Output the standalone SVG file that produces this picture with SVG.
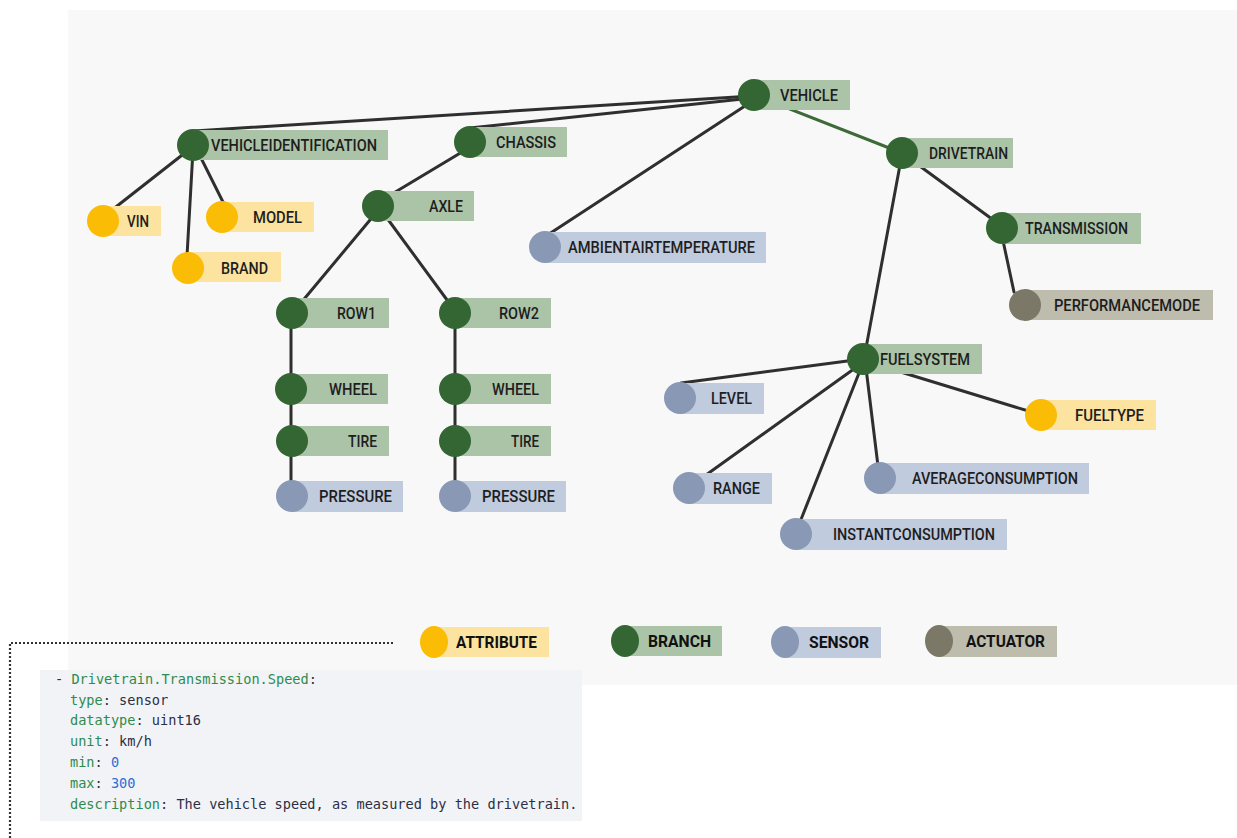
<svg xmlns="http://www.w3.org/2000/svg" width="1237" height="838" viewBox="0 0 1237 838">
  <style>
    .lbl { font-family: Roboto, "Liberation Sans", sans-serif; font-size: 16px; font-weight: 500; fill: #1e1e1e; }
    .leg { font-family: Roboto, "Liberation Sans", sans-serif; font-size: 17px; font-weight: 700; fill: #111; }
    .edge { stroke: #2f2f2f; stroke-width: 3; fill: none; stroke-linecap: round; }
    .edge.green { stroke: #3d6b37; }
    .attr circle, .attr ellipse { fill: #fbbc05; } .attr rect { fill: #fde3a0; }
    .branch circle, .branch ellipse { fill: #336633; } .branch rect { fill: #abc4a8; }
    .sensor circle, .sensor ellipse { fill: #8898b5; } .sensor rect { fill: #c1cbde; }
    .actuator circle, .actuator ellipse { fill: #7c7867; } .actuator rect { fill: #bdbcad; }
    .code { font-family: "DejaVu Sans Mono", "Liberation Mono", monospace; font-size: 13.6px; }
    .k { fill: #2e8b4e; } .v { fill: #2a2f45; } .n { fill: #2f6fd6; }
  </style>

  <rect x="0" y="0" width="1237" height="838" fill="#ffffff"/>
  <rect x="68" y="10" width="1169" height="675" fill="#f8f8f8"/>

  <!-- tree edges -->
  <g id="connectors">
    <line class="edge" x1="752" y1="96" x2="194" y2="131"/>
    <line class="edge" x1="752" y1="98" x2="470" y2="128"/>
    <line class="edge" x1="748" y1="104" x2="546" y2="236"/>
    <line class="edge green" x1="754" y1="95" x2="902" y2="153"/>
    <line class="edge" x1="462" y1="152" x2="382" y2="200"/>
    <line class="edge" x1="375" y1="214" x2="300" y2="304"/>
    <line class="edge" x1="384" y1="214" x2="450" y2="304"/>
    <line class="edge" x1="291" y1="313" x2="291" y2="496"/>
    <line class="edge" x1="455" y1="313" x2="455" y2="496"/>
    <line class="edge" x1="186" y1="152" x2="112" y2="210"/>
    <line class="edge" x1="193" y1="150" x2="187" y2="256"/>
    <line class="edge" x1="198" y1="152" x2="224" y2="204"/>
    <line class="edge" x1="902" y1="153" x2="996" y2="222"/>
    <line class="edge" x1="1002" y1="236" x2="1014" y2="292"/>
    <line class="edge" x1="900" y1="165" x2="866" y2="348"/>
    <line class="edge" x1="855" y1="360" x2="681" y2="383"/>
    <line class="edge" x1="858" y1="366" x2="699" y2="480"/>
    <line class="edge" x1="861" y1="368" x2="800" y2="522"/>
    <line class="edge" x1="866" y1="368" x2="878" y2="466"/>
    <line class="edge" x1="868" y1="362" x2="1035" y2="413"/>
  </g>

  <!-- branch nodes -->
  <g id="vehicle" class="branch"><rect x="754" y="80" width="96" height="30"/><circle cx="754" cy="95" r="16"/><text class="lbl" x="780" y="101" textLength="58" lengthAdjust="spacingAndGlyphs">VEHICLE</text></g>
  <g id="vehicleidentification" class="branch"><rect x="193" y="130" width="195" height="30"/><circle cx="193" cy="145" r="16"/><text class="lbl" x="211" y="151" textLength="166" lengthAdjust="spacingAndGlyphs">VEHICLEIDENTIFICATION</text></g>
  <g id="chassis" class="branch"><rect x="470" y="127" width="97" height="30"/><circle cx="470" cy="142" r="16"/><text class="lbl" x="496" y="148" textLength="60" lengthAdjust="spacingAndGlyphs">CHASSIS</text></g>
  <g id="drivetrain" class="branch"><rect x="902" y="138" width="111" height="30"/><circle cx="902" cy="153" r="16"/><text class="lbl" x="929" y="159" textLength="79" lengthAdjust="spacingAndGlyphs">DRIVETRAIN</text></g>
  <g id="axle" class="branch"><rect x="378" y="191" width="96" height="30"/><circle cx="378" cy="206" r="16"/><text class="lbl" x="429" y="212" textLength="34" lengthAdjust="spacingAndGlyphs">AXLE</text></g>
  <g id="transmission" class="branch"><rect x="1002" y="213" width="139" height="31"/><circle cx="1002" cy="228" r="16"/><text class="lbl" x="1025" y="234" textLength="103" lengthAdjust="spacingAndGlyphs">TRANSMISSION</text></g>
  <g id="row1" class="branch"><rect x="292" y="298" width="97" height="30"/><circle cx="292" cy="313" r="16"/><text class="lbl" x="337" y="319" textLength="39" lengthAdjust="spacingAndGlyphs">ROW1</text></g>
  <g id="row2" class="branch"><rect x="455" y="298" width="96" height="30"/><circle cx="455" cy="313" r="16"/><text class="lbl" x="499" y="319" textLength="40" lengthAdjust="spacingAndGlyphs">ROW2</text></g>
  <g id="wheel-row1" class="branch"><rect x="291" y="374" width="97" height="30"/><circle cx="291" cy="389" r="16"/><text class="lbl" x="329" y="395" textLength="48" lengthAdjust="spacingAndGlyphs">WHEEL</text></g>
  <g id="wheel-row2" class="branch"><rect x="455" y="374" width="96" height="30"/><circle cx="455" cy="389" r="16"/><text class="lbl" x="492" y="395" textLength="47" lengthAdjust="spacingAndGlyphs">WHEEL</text></g>
  <g id="tire-row1" class="branch"><rect x="292" y="426" width="97" height="30"/><circle cx="292" cy="441" r="16"/><text class="lbl" x="348" y="447" textLength="29" lengthAdjust="spacingAndGlyphs">TIRE</text></g>
  <g id="tire-row2" class="branch"><rect x="455" y="426" width="96" height="30"/><circle cx="455" cy="441" r="16"/><text class="lbl" x="511" y="447" textLength="28" lengthAdjust="spacingAndGlyphs">TIRE</text></g>
  <g id="fuelsystem" class="branch"><rect x="863" y="344" width="119" height="30"/><circle cx="863" cy="359" r="16"/><text class="lbl" x="880" y="365" textLength="90" lengthAdjust="spacingAndGlyphs">FUELSYSTEM</text></g>

  <!-- attribute nodes -->
  <g id="vin" class="attr"><rect x="103" y="206" width="58" height="30"/><circle cx="103" cy="221" r="16"/><text class="lbl" x="127" y="227" textLength="22" lengthAdjust="spacingAndGlyphs">VIN</text></g>
  <g id="model" class="attr"><rect x="222" y="202" width="92" height="30"/><circle cx="222" cy="217" r="16"/><text class="lbl" x="253" y="223" textLength="49" lengthAdjust="spacingAndGlyphs">MODEL</text></g>
  <g id="brand" class="attr"><rect x="188" y="252" width="93" height="30"/><circle cx="188" cy="268" r="16"/><text class="lbl" x="221" y="274" textLength="47" lengthAdjust="spacingAndGlyphs">BRAND</text></g>
  <g id="fueltype" class="attr"><rect x="1041" y="400" width="115" height="30"/><circle cx="1041" cy="415" r="16"/><text class="lbl" x="1075" y="421" textLength="69" lengthAdjust="spacingAndGlyphs">FUELTYPE</text></g>

  <!-- sensor nodes -->
  <g id="ambientairtemperature" class="sensor"><rect x="545" y="232" width="221" height="31"/><circle cx="545" cy="247" r="16"/><text class="lbl" x="568" y="253" textLength="187" lengthAdjust="spacingAndGlyphs">AMBIENTAIRTEMPERATURE</text></g>
  <g id="pressure-row1" class="sensor"><rect x="292" y="481" width="111" height="31"/><circle cx="292" cy="496" r="16"/><text class="lbl" x="319" y="502" textLength="73" lengthAdjust="spacingAndGlyphs">PRESSURE</text></g>
  <g id="pressure-row2" class="sensor"><rect x="455" y="481" width="111" height="31"/><circle cx="455" cy="496" r="16"/><text class="lbl" x="482" y="502" textLength="73" lengthAdjust="spacingAndGlyphs">PRESSURE</text></g>
  <g id="level" class="sensor"><rect x="680" y="383" width="84" height="31"/><circle cx="680" cy="398" r="16"/><text class="lbl" x="711" y="404" textLength="41" lengthAdjust="spacingAndGlyphs">LEVEL</text></g>
  <g id="range" class="sensor"><rect x="689" y="473" width="83" height="31"/><circle cx="689" cy="488" r="16"/><text class="lbl" x="713" y="494" textLength="47" lengthAdjust="spacingAndGlyphs">RANGE</text></g>
  <g id="averageconsumption" class="sensor"><rect x="880" y="463" width="209" height="31"/><circle cx="880" cy="478" r="16"/><text class="lbl" x="912" y="484" textLength="166" lengthAdjust="spacingAndGlyphs">AVERAGECONSUMPTION</text></g>
  <g id="instantconsumption" class="sensor"><rect x="796" y="519" width="211" height="31"/><circle cx="796" cy="534" r="16"/><text class="lbl" x="833" y="540" textLength="162" lengthAdjust="spacingAndGlyphs">INSTANTCONSUMPTION</text></g>

  <!-- actuator nodes -->
  <g id="performancemode" class="actuator"><rect x="1025" y="290" width="188" height="30"/><circle cx="1025" cy="305" r="16"/><text class="lbl" x="1054" y="311" textLength="146" lengthAdjust="spacingAndGlyphs">PERFORMANCEMODE</text></g>

  <!-- legend -->
  <g id="legend">
    <g id="legend-attribute" class="attr"><rect x="434" y="627" width="115" height="30"/><ellipse cx="434" cy="642" rx="14" ry="16"/><text class="leg" x="456" y="648" textLength="81" lengthAdjust="spacingAndGlyphs">ATTRIBUTE</text></g>
    <g id="legend-branch" class="branch"><rect x="625" y="626" width="97" height="30"/><ellipse cx="625" cy="641" rx="14" ry="16"/><text class="leg" x="648" y="647" textLength="63" lengthAdjust="spacingAndGlyphs">BRANCH</text></g>
    <g id="legend-sensor" class="sensor"><rect x="785" y="627" width="96" height="31"/><ellipse cx="785" cy="642" rx="14" ry="16"/><text class="leg" x="809" y="648" textLength="60" lengthAdjust="spacingAndGlyphs">SENSOR</text></g>
    <g id="legend-actuator" class="actuator"><rect x="939" y="626" width="118" height="31"/><ellipse cx="939" cy="641" rx="14" ry="16"/><text class="leg" x="966" y="647" textLength="79" lengthAdjust="spacingAndGlyphs">ACTUATOR</text></g>
  </g>

  <!-- dotted callout -->
  <path d="M393 643 H10 V838" fill="none" stroke="#333" stroke-width="2.2" stroke-dasharray="2 2"/>

  <!-- YAML snippet -->
  <g id="spec">
    <rect x="40" y="670" width="542" height="151" fill="#f2f3f6"/>
    <text class="code" x="55" y="684"><tspan class="v">- </tspan><tspan class="k">Drivetrain.Transmission.Speed</tspan><tspan class="v">:</tspan></text>
    <text class="code" x="70" y="705"><tspan class="k">type</tspan><tspan class="v">: sensor</tspan></text>
    <text class="code" x="70" y="725"><tspan class="k">datatype</tspan><tspan class="v">: uint16</tspan></text>
    <text class="code" x="70" y="746"><tspan class="k">unit</tspan><tspan class="v">: km/h</tspan></text>
    <text class="code" x="70" y="767"><tspan class="k">min</tspan><tspan class="v">: </tspan><tspan class="n">0</tspan></text>
    <text class="code" x="70" y="788"><tspan class="k">max</tspan><tspan class="v">: </tspan><tspan class="n">300</tspan></text>
    <text class="code" x="70" y="809"><tspan class="k">description</tspan><tspan class="v">: The vehicle speed, as measured by the drivetrain.</tspan></text>
  </g>
</svg>
